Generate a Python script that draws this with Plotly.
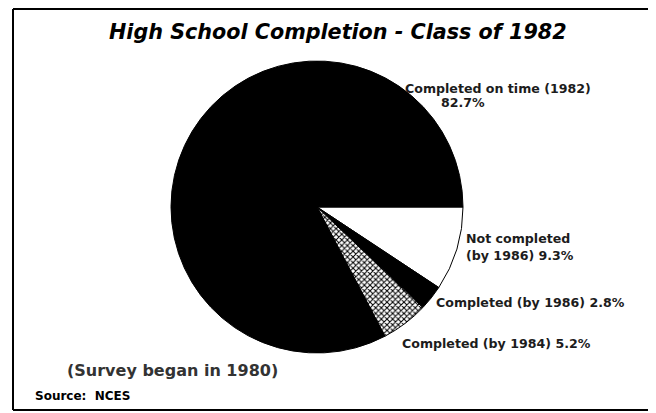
import plotly.graph_objects as go

labels = ["Not completed (by 1986)", "Completed (by 1986)", "Completed (by 1984)", "Completed on time (1982)"]
values = [9.3, 2.8, 5.2, 82.7]
colors = ["white", "black", "white", "black"]
patterns = ["", "", "x", ""]

W, H = 656, 413
OFF = 8  # page body margin offset
cx, cy, r = 317 - OFF, 207 - OFF, 146

fig = go.Figure(go.Pie(
    labels=labels, values=values, sort=False, direction="clockwise", rotation=90,
    marker=dict(colors=colors, line=dict(color="black", width=1),
                pattern=dict(shape=patterns, fgcolor="black", bgcolor="white", size=4, solidity=0.45)),
    textinfo="none", hoverinfo="label+percent", showlegend=False,
    domain=dict(x=[(cx - r) / W, (cx + r) / W], y=[1 - (cy + r) / H, 1 - (cy - r) / H]),
))

font = "DejaVu Sans, Liberation Sans, Arial, sans-serif"
tc = "#1c1c1c"
ann = [
    dict(text="<b><i>High School Completion - Class of 1982</i></b>", x=338, y=32, size=20.7, xanchor="center", color="black"),
    dict(text="<b>Completed on time (1982)</b>", x=403, y=88, size=12.6, xanchor="left", color=tc),
    dict(text="<b>82.7%</b>", x=439, y=103, size=12.6, xanchor="left", color=tc),
    dict(text="<b>Not completed</b>", x=464, y=238, size=12.6, xanchor="left", color=tc),
    dict(text="<b>(by 1986) 9.3%</b>", x=464, y=255, size=12.6, xanchor="left", color=tc),
    dict(text="<b>Completed (by 1986) 2.8%</b>", x=434, y=302, size=12.6, xanchor="left", color=tc),
    dict(text="<b>Completed (by 1984) 5.2%</b>", x=400, y=343, size=12.6, xanchor="left", color=tc),
    dict(text="<b>(Survey began in 1980)</b>", x=65, y=370, size=16, xanchor="left", color="#333"),
    dict(text="<b>Source:  NCES</b>", x=33, y=396, size=12, xanchor="left", color="black"),
]
annotations = [dict(text=a["text"], x=(a["x"] - OFF) / W, y=1 - (a["y"] - OFF) / H, xref="paper", yref="paper",
                    xanchor=a["xanchor"], yanchor="middle", showarrow=False,
                    font=dict(family=font, size=a["size"], color=a["color"])) for a in ann]

L, T, B = (13 - OFF) / W, 1 - (9 - OFF) / H, 1 - (410 - OFF) / H
frame = [
    dict(x0=L, x1=1.0, y0=T, y1=T),
    dict(x0=L, x1=L, y0=B, y1=T),
    dict(x0=L, x1=1.0, y0=B, y1=B),
]
shapes = [dict(type="line", xref="paper", yref="paper", line=dict(color="black", width=2), **f) for f in frame]

fig.update_layout(
    width=W, height=H, margin=dict(l=0, r=0, t=0, b=0),
    paper_bgcolor="white", plot_bgcolor="white",
    annotations=annotations,
    shapes=shapes,
)
fig.write_html("out.html")
